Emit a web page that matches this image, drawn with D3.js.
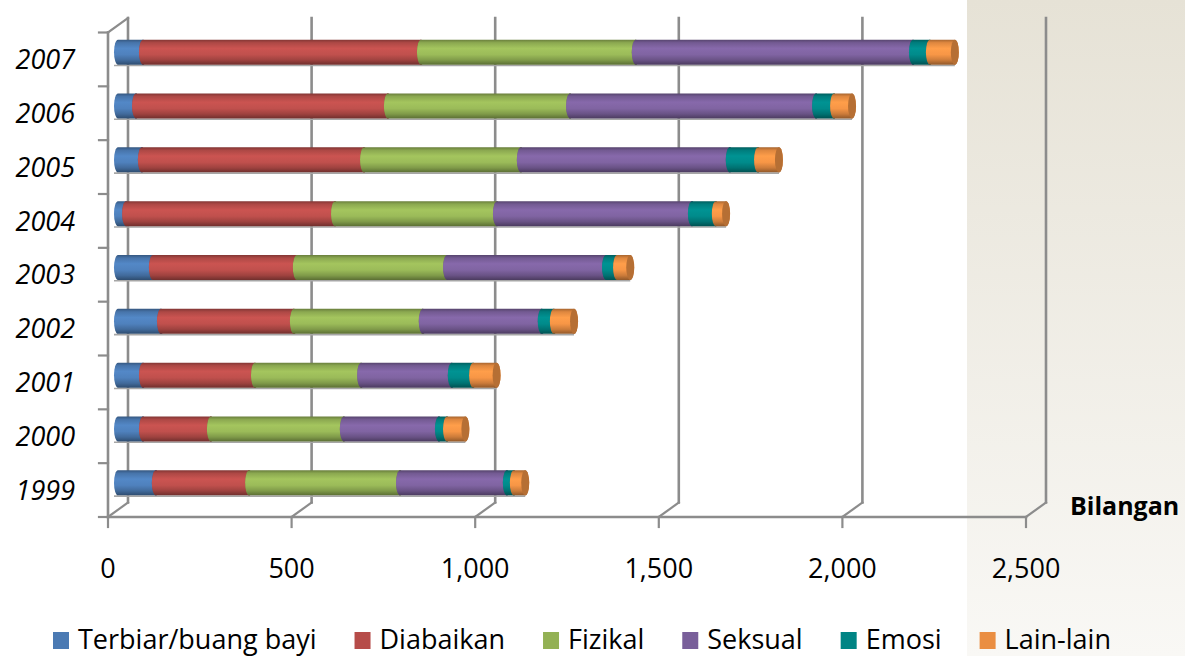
<!DOCTYPE html>
<html>
<head>
<meta charset="utf-8">
<script src="https://cdn.jsdelivr.net/npm/d3@7/dist/d3.min.js"></script>
<style>
  html, body { margin: 0; padding: 0; background: #ffffff; }
  svg { display: block; font-family: "Open Sans", "DejaVu Sans", sans-serif; }
</style>
</head>
<body>
<svg id="chart" width="1185" height="656"></svg>
<script>
// Kes penderaan kanak-kanak mengikut jenis, 1999–2007
const years = ["1999", "2000", "2001", "2002", "2003", "2004", "2005", "2006", "2007"];
const seriesNames = ["Terbiar/buang bayi", "Diabaikan", "Fizikal", "Seksual", "Emosi", "Lain-lain"];
const terbiar   = [103,  68,  68, 117,  95,  22,  65,  49,  68];
const diabaikan = [254, 185, 305, 362, 392, 569, 605, 686, 757];
const fizikal   = [411, 362, 289, 351, 409, 441, 427, 496, 585];
const seksual   = [291, 259, 247, 324, 433, 531, 569, 670, 755];
const emosi     = [ 19,  22,  58,  33,  30,  65,  77,  49,  46];
const lainLain  = [ 31,  50,  64,  55,  36,  28,  57,  49,  68];
const xTicks = [0, 500, 1000, 1500, 2000, 2500];
const colors = ["#4f81bd", "#c0504d", "#9bbb59", "#8064a2", "#008b8b", "#f79646"];

const seriesValues = [terbiar, diabaikan, fizikal, seksual, emosi, lainLain];
const rows = years.map((y, i) => {
  const r = { year: y };
  seriesNames.forEach((s, j) => { r[s] = seriesValues[j][i]; });
  return r;
});
const stacked = d3.stack().keys(seriesNames)(rows);

const svg = d3.select("#chart");
const W = 1185, H = 656;

// depth of the 3-D box (back wall offset)
const DX = 20, DY = -14.5;
const floorY = 517, topY = 32.5;

const x = d3.scaleLinear().domain([0, 2500]).range([108, 1026]);
const y = d3.scaleBand().domain(years.slice().reverse()).range([topY, floorY]);

const defs = svg.append("defs");

// side panel gradient
const bg = defs.append("linearGradient").attr("id", "panel")
  .attr("x1", 0).attr("y1", 0).attr("x2", 0).attr("y2", 1);
bg.append("stop").attr("offset", 0).attr("stop-color", "#e6e2d6");
bg.append("stop").attr("offset", 1).attr("stop-color", "#f9f8f5");
svg.append("rect").attr("x", 967).attr("y", 0).attr("width", W - 967).attr("height", H)
  .attr("fill", "url(#panel)");

// cylinder shading for each series
colors.forEach((c, i) => {
  const g = defs.append("linearGradient").attr("id", "cyl" + i)
    .attr("x1", 0).attr("y1", 0).attr("x2", 0).attr("y2", 1);
  const base = d3.color(c);
  const stops = [
    [0.00, base.darker(1.1)],
    [0.12, base.darker(0.3)],
    [0.35, base.brighter(0.15)],
    [0.60, base],
    [0.82, base.darker(0.55)],
    [1.00, base.darker(1.5)]
  ];
  stops.forEach(([o, col]) => g.append("stop").attr("offset", o).attr("stop-color", col.formatHex()));
});

const gridColor = "#8c8c8c";
const grid = svg.append("g").attr("stroke", gridColor).attr("fill", "none").attr("stroke-linecap", "square");

// back wall vertical gridlines
grid.selectAll("line.v").data(xTicks).join("line")
  .attr("x1", d => x(d) + DX).attr("x2", d => x(d) + DX)
  .attr("y1", topY + DY).attr("y2", floorY + DY)
  .attr("stroke-width", 2.6);

// floor diagonals at each tick
grid.selectAll("line.d").data(xTicks).join("line")
  .attr("x1", d => x(d)).attr("y1", floorY)
  .attr("x2", d => x(d) + DX).attr("y2", floorY + DY)
  .attr("stroke-width", 2.2);

// front floor edge and tick marks
grid.append("line").attr("x1", x(0)).attr("x2", x(2500)).attr("y1", floorY).attr("y2", floorY)
  .attr("stroke-width", 2.6);
grid.selectAll("line.t").data(xTicks).join("line")
  .attr("x1", d => x(d)).attr("x2", d => x(d))
  .attr("y1", floorY).attr("y2", floorY + 10)
  .attr("stroke-width", 2.2);

// left wall
grid.append("line").attr("x1", x(0)).attr("x2", x(0)).attr("y1", topY).attr("y2", floorY)
  .attr("stroke-width", 2.6);
grid.append("line").attr("x1", x(0)).attr("y1", topY).attr("x2", x(0) + DX).attr("y2", topY + DY)
  .attr("stroke-width", 2.2);
const catTicks = years.map(d => y(d)).concat([floorY]);
grid.selectAll("line.c").data(catTicks).join("line")
  .attr("x1", x(0) - 9).attr("x2", x(0))
  .attr("y1", d => d).attr("y2", d => d)
  .attr("stroke-width", 2.2);

// cylinders
const barH = 25, ry = barH / 2, rx = 4;
const bars = svg.append("g");
const cy = yr => y(yr) + y.bandwidth() / 2 + DY / 2;
const px = v => x(v) + DX / 2;

// faint floor line under each bar
bars.selectAll("line.shadow").data(rows).join("line")
  .attr("x1", px(0) - rx).attr("x2", d => px(d3.sum(seriesNames, s => d[s])))
  .attr("y1", d => cy(d.year) + ry + 0.8).attr("y2", d => cy(d.year) + ry + 0.8)
  .attr("stroke", "#a6a6a6").attr("stroke-width", 1.6);

// each row is painted left to right: side surface, then its end face,
// which the next segment partly covers
stacked.forEach((layer, i) => {
  const g = bars.append("g");
  layer.forEach((seg, k) => {
    if (seg[1] - seg[0] <= 0) return;
    const c = cy(years[k]);
    const xa = px(seg[0]), xb = px(seg[1]);
    const p = `M${xa},${c - ry} L${xb},${c - ry} A${rx},${ry} 0 0 1 ${xb},${c + ry} L${xa},${c + ry} A${rx},${ry} 0 0 1 ${xa},${c - ry} Z`;
    g.append("path").attr("d", p).attr("fill", `url(#cyl${i})`);
    g.append("ellipse").attr("cx", xb).attr("cy", c).attr("rx", rx).attr("ry", ry)
      .attr("fill", d3.color(colors[i]).darker(0.85).formatHex());
  });
});

// category labels
svg.append("g").selectAll("text").data(years).join("text")
  .attr("x", 75).attr("y", d => y(d) + y.bandwidth() / 2)
  .attr("dy", "0.36em")
  .attr("text-anchor", "end")
  .attr("font-size", 27).attr("font-style", "italic")
  .attr("fill", "#000")
  .text(d => d);

// value axis labels
svg.append("g").selectAll("text").data(xTicks).join("text")
  .attr("x", d => x(d)).attr("y", 578)
  .attr("text-anchor", "middle")
  .attr("font-size", 27).attr("fill", "#000")
  .text(d => d3.format(",")(d));

// axis title
svg.append("text").attr("x", 1070).attr("y", 515)
  .attr("font-size", 25).attr("font-weight", "bold").attr("fill", "#000")
  .text("Bilangan");

// legend
const legend = svg.append("g");
let lx = 53;
seriesNames.forEach((s, i) => {
  legend.append("rect").attr("x", lx).attr("y", 632).attr("width", 16).attr("height", 17)
    .attr("fill", d3.color(colors[i]).darker(0.15).formatHex());
  const t = legend.append("text").attr("x", lx + 25).attr("y", 649)
    .attr("font-size", 27).attr("fill", "#000").text(s);
  lx += 25 + t.node().getComputedTextLength() + 38;
});
</script>
</body>
</html>
